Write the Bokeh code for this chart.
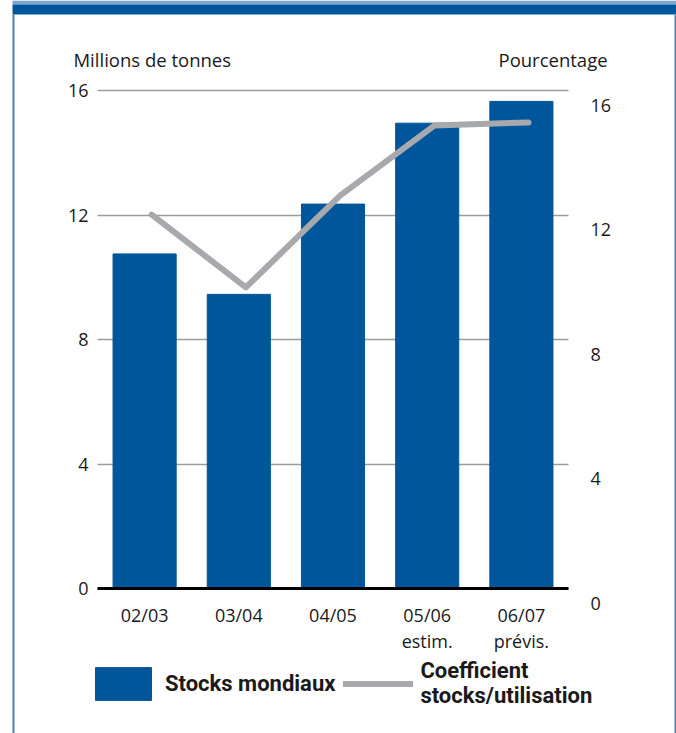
from bokeh.plotting import figure
from bokeh.models import (Range1d, LinearAxis, FixedTicker, Label,
                          BoxAnnotation, Legend, LegendItem, ColumnDataSource)
from bokeh.transform import dodge
from bokeh.embed import file_html
from bokeh.resources import INLINE

categories = ["02/03", "03/04", "04/05", "05/06\nestim.", "06/07\nprévis."]
stocks = [10.75, 9.45, 12.35, 14.95, 15.65]      # millions de tonnes
ratio = [12.48, 10.14, 13.09, 15.34, 15.44]      # pourcentage
left_ticks = [0, 4, 8, 12, 16]
right_ticks = [0, 4, 8, 12, 16]

FONT = "Open Sans"
LEG_FONT = "Roboto"
BLUE = "#00569a"
GREY_LINE = "#a7a9ac"
GRID = "#9d9d9d"
TXT = "#1a1a1a"
BORDER = "#4a80b8"
BAND = "#00569a"
BAND_LIGHT = "#7ba4cf"

idx = list(range(len(categories)))
src = ColumnDataSource(dict(x=idx, stocks=stocks, ratio=ratio))

W, H = 676, 733
PXU_X = 94.2      # px per category
PXU_Y = 31.125    # px per unit
x0, x1 = -0.5 - 97 / PXU_X, 4.5 + 108 / PXU_X
y0, y1 = -(H - 588) / PXU_Y, 588 / PXU_Y
OFF = 0.466       # right-hand scale offset

p = figure(width=W, height=H,
           x_range=Range1d(x0, x1), y_range=Range1d(y0, y1),
           output_backend="svg", toolbar_location=None,
           min_border_left=0, min_border_right=0,
           min_border_top=0, min_border_bottom=0)
p.outline_line_color = None
p.background_fill_color = "white"
p.border_fill_color = "white"
p.xgrid.visible = False
p.ygrid.visible = False
p.extra_y_ranges = {"pct": Range1d(y0 + OFF, y1 + OFF)}

bars = p.vbar(x="x", top="stocks", width=0.67, source=src,
              fill_color=BLUE, line_color=BLUE)
line = p.line(x=dodge("x", 0.075), y="ratio", source=src,
              y_range_name="pct", line_width=6, line_color=GREY_LINE,
              line_cap="round", line_join="round")

# x axis at y = 0 (black baseline)
xa = p.xaxis[0]
xa.ticker = FixedTicker(ticks=idx)
xa.major_label_overrides = {i: c for i, c in zip(idx, categories)}
xa.fixed_location = 0
xa.bounds = (-0.5, 4.5)
xa.axis_line_color = "black"
xa.axis_line_width = 3
xa.major_tick_line_color = None
xa.minor_tick_line_color = None
xa.major_label_standoff = 8
xa.major_label_text_font = FONT
xa.major_label_text_font_size = "18px"
xa.major_label_text_line_height = 1.1
xa.major_label_text_color = TXT

# left axis; its long inward ticks act as the horizontal grid lines
ya = p.yaxis[0]
ya.ticker = FixedTicker(ticks=left_ticks)
ya.fixed_location = -0.5
ya.axis_line_color = None
ya.major_tick_in = 471
ya.major_tick_out = 0
ya.major_tick_line_color = GRID
ya.major_tick_line_width = 1.5
ya.minor_tick_line_color = None
ya.major_label_standoff = 9
ya.major_label_text_font = FONT
ya.major_label_text_font_size = "18px"
ya.major_label_text_color = TXT
ya.level = "underlay"

ra = LinearAxis(y_range_name="pct", ticker=FixedTicker(ticks=right_ticks))
ra.fixed_location = 4.5
ra.axis_line_color = None
ra.major_tick_line_color = None
ra.minor_tick_line_color = None
ra.major_label_standoff = 16
ra.major_label_text_font = FONT
ra.major_label_text_font_size = "18px"
ra.major_label_text_color = TXT
p.add_layout(ra, "right")

for txt, x in [("Millions de tonnes", -0.755), ("Pourcentage", 3.757)]:
    p.add_layout(Label(x=x, y=17.0, text=txt, text_baseline="middle",
                       text_font=FONT, text_font_size="18.5px", text_color=TXT))

# frame decoration (screen units: from bottom-left of the frame)
def box(l, r, b, t, c):
    p.add_layout(BoxAnnotation(left=l, right=r, bottom=b, top=t,
                               left_units="screen", right_units="screen",
                               top_units="screen", bottom_units="screen",
                               fill_color=c, fill_alpha=1, line_color=None,
                               level="overlay"))

box(12, W, H - 4, H, BAND_LIGHT)
box(12, W, H - 14, H - 4, BAND)
box(12, 14, 0, H - 14, BORDER)
box(674, 676, 0, H - 14, BORDER)

legend = Legend(items=[LegendItem(label="Stocks mondiaux", renderers=[bars]),
                       LegendItem(label="Coefficient\nstocks/utilisation", renderers=[line])],
                orientation="horizontal", location=(88, 25),
                glyph_width=70, glyph_height=41, label_standoff=7, spacing=8,
                padding=0, margin=0, border_line_color=None, background_fill_alpha=0,
                label_text_font=LEG_FONT, label_text_font_style="bold",
                label_text_font_size="22px", label_text_color=TXT)
p.add_layout(legend)

open("out.html", "w").write(file_html(p, INLINE))
